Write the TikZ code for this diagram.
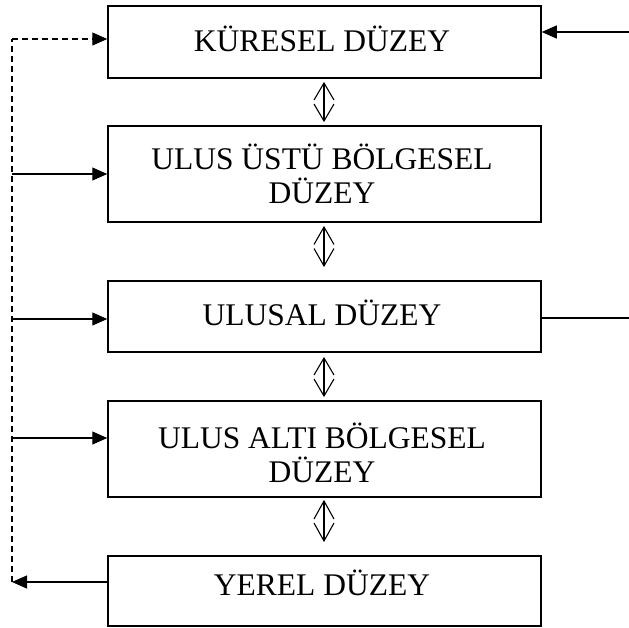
\documentclass[tikz,border=0pt]{standalone}
\usepackage{fontspec}
\setmainfont{Liberation Serif}
\usetikzlibrary{arrows.meta}
\begin{document}
\begin{tikzpicture}[x=1pt,y=-1pt,
  levelbox/.style={draw, line width=1.5pt, minimum width=433pt, inner sep=0pt},
  leveltext/.style={inner sep=0pt, align=center, font=\fontsize{31.5}{34}\selectfont},
  link/.style={line width=1.2pt},
  tip/.style={-{Triangle[length=15pt,width=13pt]}},
  dashlink/.style={line width=1.2pt, dash pattern=on 6pt off 4pt},
  dbl/.style={line width=1.1pt}]
\useasboundingbox (0,0) rectangle (629,627);
\node[levelbox, minimum height=72pt] (b1) at (324.5,42) {};
\node[levelbox, minimum height=96pt] (b2) at (324.5,174) {};
\node[levelbox, minimum height=71pt] (b3) at (324.5,316.5) {};
\node[levelbox, minimum height=96pt] (b4) at (324.5,449) {};
\node[levelbox, minimum height=70pt] (b5) at (324.5,591) {};
\node[leveltext] (t1) at (322,39) {KÜRESEL DÜZEY};
\node[leveltext] (t2) at (322,174) {ULUS ÜSTÜ BÖLGESEL\\DÜZEY};
\node[leveltext] (t3) at (322,313) {ULUSAL DÜZEY};
\node[leveltext] (t4) at (322,453) {ULUS ALTI BÖLGESEL\\DÜZEY};
\node[leveltext] (t5) at (322,583) {YEREL DÜZEY};
% left feedback lines
\coordinate (l1) at (12,39);
\coordinate (l2) at (12,174);
\coordinate (l3) at (12,319);
\coordinate (l4) at (12,438);
\coordinate (l5) at (12,582);
\draw[dashlink] (l5) -- (l1);
\draw[dashlink, tip] (l1) -- (l1 -| b1.west);
\draw[link, tip] (l2) -- (l2 -| b2.west);
\draw[link, tip] (l3) -- (l3 -| b3.west);
\draw[link, tip] (l4) -- (l4 -| b4.west);
\draw[link, tip] (l5 -| b5.west) -- (l5);
% right lines
\coordinate (r1) at (629,32);
\coordinate (r3) at (629,318);
\draw[link, tip] (r1) -- (r1 -| b1.east);
\draw[link] (r3 -| b3.east) -- (r3);
% double arrows
\foreach \t/\b [count=\i] in {83/121, 227/266, 358/396, 501/541}{
  \pgfmathsetmacro{\m}{(\t+\b)/2}
  \coordinate (dt\i) at (324,\t);
  \coordinate (db\i) at (324,\b);
  \draw[dbl] (dt\i) -- (db\i);
  \draw[dbl] (314,\m-2) -- (dt\i) -- (334,\m-2);
  \draw[dbl] (314,\m+2) -- (db\i) -- (334,\m+2);
}
\end{tikzpicture}
\end{document}
